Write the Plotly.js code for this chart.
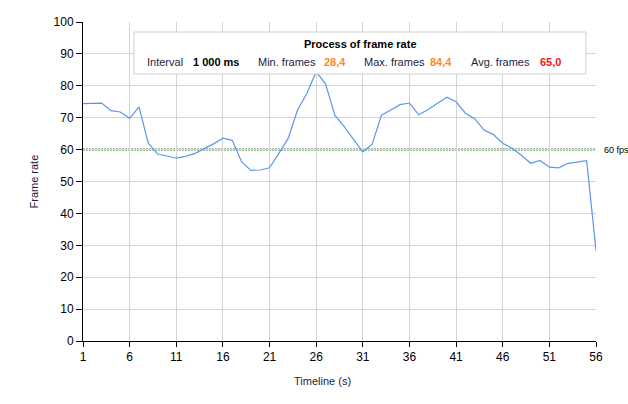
<!DOCTYPE html>
<html>
<head>
<meta charset="utf-8">
<script src="https://cdn.plot.ly/plotly-3.0.1.min.js"></script>
<style>
html,body{margin:0;padding:0;background:#fff;}
#chart{width:628px;height:404px;}
</style>
</head>
<body>
<div id="chart"></div>
<script>
// ---- data ----
const seconds = [1,2,3,4,5,6,7,8,9,10,11,12,13,14,15,16,17,18,19,20,21,22,23,24,25,26,27,28,29,30,31,32,33,34,35,36,37,38,39,40,41,42,43,44,45,46,47,48,49,50,51,52,53,54,55,56];
const frameRate = [74.4,74.4,74.6,72.2,71.8,69.8,73.4,62.0,58.6,58.0,
                   57.3,57.9,58.8,60.3,61.8,63.6,62.9,56.2,53.5,53.6,
                   54.3,58.8,63.5,72.4,77.6,84.4,80.6,70.8,67.2,63.2,
                   59.3,61.7,70.8,72.4,74.1,74.6,70.9,72.6,74.5,76.4,
                   75.0,71.4,69.7,66.1,64.7,62.0,60.4,58.2,55.7,56.6,
                   54.5,54.3,55.7,56.2,56.5,28.4];
const xTicks = [1,6,11,16,21,26,31,36,41,46,51,56];
const yTicks = [0,10,20,30,40,50,60,70,80,90,100];
const targetFps = 60;
const targetLabel = "60 fps";
const panelTitle = "Process of frame rate";
const statLabels = ["Interval", "Min. frames", "Max. frames", "Avg. frames"];
const statValues = ["1 000 ms", "28,4", "84,4", "65,0"];

// ---- layout helpers (pixel -> paper) ----
const L = 83, R = 596, T = 22, B = 341;
const px = p => (p - L) / (R - L);
const py = p => (B - p) / (B - T);
const FONT = "Liberation Sans, Arial, sans-serif";
const labelColor = "#1c1c44";

const trace = {
  x: seconds, y: frameRate, type: "scatter", mode: "lines",
  line: {color: "#5b97ec", width: 1.2},
  hoverinfo: "skip"
};

const statX = [146.7, 257.7, 364, 471];
const valX = [192.7, 324.3, 430, 540];
const valColor = ["#000000", "#ff8a1c", "#ff8a1c", "#f0141e"];
const rowY = py(61.5);

const annotations = [
  {xref:"paper", yref:"paper", x: px(360), y: py(44.5), text: "<b>"+panelTitle+"</b>",
   showarrow:false, xanchor:"center", yanchor:"middle", font:{family:FONT, size:11, color:"#000"}},
  {xref:"paper", yref:"y", x: px(602), y: targetFps, text: targetLabel,
   showarrow:false, xanchor:"left", yanchor:"middle", font:{family:FONT, size:9, color:"#000"}},
  {xref:"paper", yref:"paper", x: px(33), y: 0.5, text: "Frame rate", textangle:-90,
   showarrow:false, xanchor:"center", yanchor:"middle", font:{family:FONT, size:11, color:labelColor}},
  {xref:"paper", yref:"paper", x: px(322), y: py(381), text: "Timeline (s)",
   showarrow:false, xanchor:"center", yanchor:"middle", font:{family:FONT, size:11, color:labelColor}}
];
statLabels.forEach((s,i) => {
  annotations.push({xref:"paper", yref:"paper", x: px(statX[i]), y: rowY, text: s,
    showarrow:false, xanchor:"left", yanchor:"middle", xshift:-2,
    font:{family:FONT, size:11, color:labelColor}});
  annotations.push({xref:"paper", yref:"paper", x: px(valX[i]), y: rowY, text: "<b>"+statValues[i]+"</b>",
    showarrow:false, xanchor:"left", yanchor:"middle", xshift:-2,
    font:{family:FONT, size:11, color:valColor[i]}});
});

const layout = {
  width: 628, height: 404,
  margin: {l: L, r: 628 - R, t: T, b: 404 - B},
  paper_bgcolor: "#fff", plot_bgcolor: "#fff",
  showlegend: false,
  font: {family: FONT, size: 12, color: "#000"},
  xaxis: {
    range: [1, 56], tickmode: "array", tickvals: xTicks, ticktext: xTicks.map(String),
    showgrid: true, gridcolor: "#d4d4d4", gridwidth: 1,
    showline: true, linecolor: "#000", linewidth: 1,
    ticks: "outside", ticklen: 5, tickcolor: "#000",
    zeroline: false, tickfont: {family: FONT, size: 12, color: "#000"}
  },
  yaxis: {
    range: [0, 100], tickmode: "array", tickvals: yTicks, ticktext: yTicks.map(String),
    showgrid: true, gridcolor: "#d4d4d4", gridwidth: 1,
    showline: true, linecolor: "#000", linewidth: 1,
    ticks: "outside", ticklen: 6, tickcolor: "#000",
    zeroline: false, tickfont: {family: FONT, size: 12, color: "#000"}
  },
  shapes: [
    {type:"line", xref:"x", yref:"y", x0: seconds[0], x1: seconds[seconds.length-1], y0: targetFps, y1: targetFps,
     line:{color:"#4a8545", width:2, dash:"2px,1px"}, layer:"below"},
    {type:"rect", xref:"paper", yref:"paper", x0: px(134), x1: px(586), y0: py(74), y1: py(32),
     fillcolor:"#fff", line:{color:"#d0d0d0", width:1}, layer:"above"}
  ],
  annotations: annotations
};

Plotly.newPlot("chart", [trace], layout, {staticPlot: true, displayModeBar: false});
</script>
</body>
</html>
